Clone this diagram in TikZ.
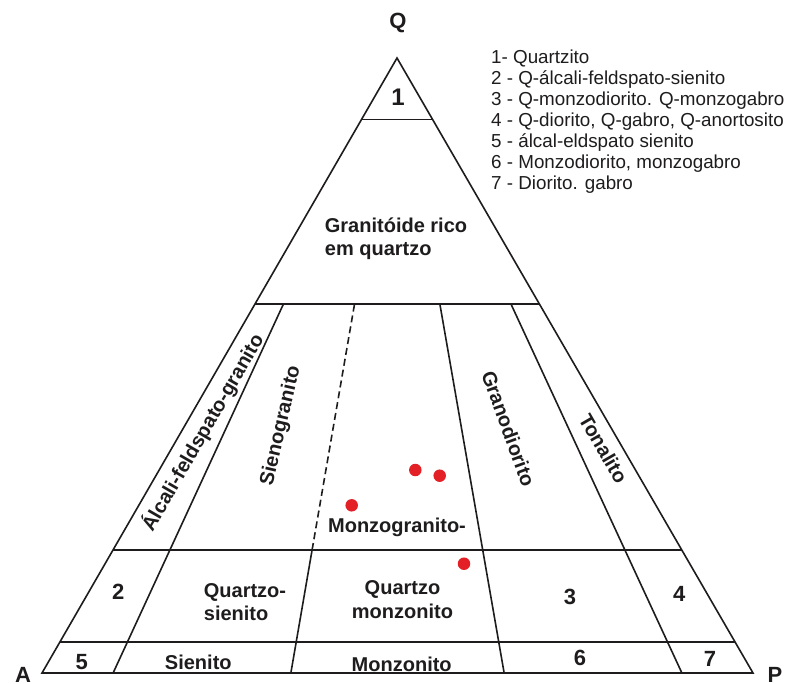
\documentclass[tikz,border=0pt]{standalone}
\usepackage{fontspec}
\setmainfont{Liberation Sans}
\usetikzlibrary{calc}
\definecolor{dotred}{RGB}{226,32,38}
\definecolor{ink}{RGB}{30,28,28}
\begin{document}
\begin{tikzpicture}[x=1pt,y=-1pt,
  edge/.style={draw=ink,line width=1.6pt,line join=miter,line cap=butt},
  dashedge/.style={draw=ink,line width=1.6pt,dash pattern=on 7pt off 4pt},
  lbl/.style={font=\fontsize{20}{23.3}\selectfont\bfseries,inner sep=0pt,text=ink},
  num/.style={font=\fontsize{22}{24}\selectfont\bfseries,inner sep=0pt,text=ink},
  legend/.style={font=\fontsize{18.8}{21}\selectfont,inner sep=0pt,anchor=base west,text=ink},
  dot/.style={circle,fill=dotred,minimum size=12.5pt,inner sep=0pt}]
\useasboundingbox (0,0) rectangle (795,683);
% vertices
\coordinate (A) at (42,673);
\coordinate (P) at (753,673);
\coordinate (Q) at (397,58);
% horizontal levels
\foreach \q/\n in {0.9/90,0.6/60,0.2/20,0.05/05}{
  \coordinate (L\n) at ($(A)!\q!(Q)$);
  \coordinate (R\n) at ($(P)!\q!(Q)$);
}
% base points and upper ends of the radial lines
\foreach \f/\n in {0.1/10,0.35/35,0.65/65,0.9/90}{
  \coordinate (B\n) at ($(A)!\f!(P)$);
  \coordinate (U\n) at ($(B\n)!0.6!(Q)$);
}
\coordinate (M35) at ($(B35)!0.2!(Q)$);
% outline
\draw[edge] (A) -- (P) -- (Q) -- cycle;
\draw[edge] (L90) -- (R90);
\draw[edge] (L60) -- (R60);
\draw[edge] (L20) -- (R20);
\draw[edge] (L05) -- (R05);
\draw[edge] (B10) -- (U10);
\draw[edge] (B35) -- (M35);
\draw[dashedge] (M35) -- (U35);
\draw[edge] (B65) -- (U65);
\draw[edge] (B90) -- (U90);
% vertex labels
\node[num] (tQ) at (398,23) {Q};
\node[num] (tA) at (23,675) {A};
\node[num] (tP) at (775,675) {P};
% field numbers
\node[num,font=\fontsize{24}{26}\selectfont\bfseries] (n1) at (398,97) {1};
\node[num] (n2) at (118.3,592) {2};
\node[num] (n3) at (570,597) {3};
\node[num] (n4) at (679.3,593.5) {4};
\node[num] (n5) at (81.7,661.7) {5};
\node[num] (n6) at (580,657.5) {6};
\node[num] (n7) at (710,659) {7};
% field names
\node[lbl,align=left] (gr) at (396,239) {Granitóide rico\\em quartzo};
\node[lbl,rotate=60] (afg) at (202.5,432.5) {Álcali-feldspato-granito};
\node[lbl,rotate=77] (sg) at (281,426) {Sienogranito};
\node[lbl,rotate=-70] (gd) at (508.5,428.5) {Granodiorito};
\node[lbl,rotate=-60] (ton) at (603.5,448.5) {Tonalito};
\node[lbl] (mg) at (397,527) {Monzogranito-};
\node[lbl,align=left] (qs) at (245,602) {Quartzo-\\sienito};
\node[lbl,align=center] (qm) at (402.5,599.5) {Quartzo\\monzonito};
\node[lbl] (si) at (198.3,662.5) {Sienito};
\node[lbl] (mz) at (401.7,664) {Monzonito};
% samples
\node[dot] (d1) at (415.3,470) {};
\node[dot] (d2) at (439.7,475.7) {};
\node[dot] (d3) at (351.7,505.3) {};
\node[dot] (d4) at (464,563.7) {};
% legend
\node[legend] (l1) at (491,63.8) {1- Quartzito};
\node[legend] (l2) at (491,84.8) {2 - Q-álcali-feldspato-sienito};
\node[legend] (l3) at (491,105.8) {3 - Q-monzodiorito. Q-monzogabro};
\node[legend] (l4) at (491,126.8) {4 - Q-diorito, Q-gabro, Q-anortosito};
\node[legend] (l5) at (491,147.8) {5 - álcal-eldspato sienito};
\node[legend] (l6) at (491,168.8) {6 - Monzodiorito, monzogabro};
\node[legend] (l7) at (491,189.8) {7 - Diorito. gabro};
\end{tikzpicture}
\end{document}
